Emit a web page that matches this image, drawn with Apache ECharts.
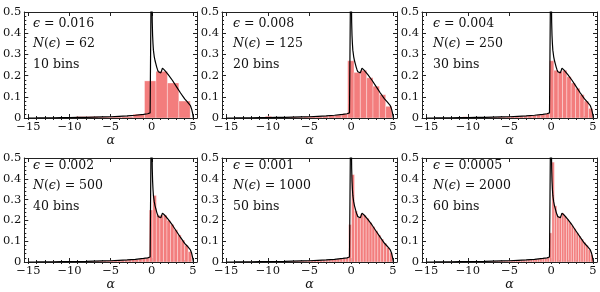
<!DOCTYPE html>
<html><head><meta charset="utf-8">
<script src="https://cdn.jsdelivr.net/npm/echarts@6/dist/echarts.min.js"></script>
<style>html,body{margin:0;padding:0;background:#fff}#c{width:600px;height:292px}</style>
</head><body><div id="c"></div>
<script>
// ---- data ----
const epsLabels = ['0.016', '0.008', '0.004', '0.002', '0.001', '0.0005'];
const nLabels = ['62', '125', '250', '500', '1000', '2000'];
const binLabels = ['10 bins', '20 bins', '30 bins', '40 bins', '50 bins', '60 bins'];
const xTicks = [-15, -10, -5, 0, 5];
const xMinorTicks = [-15,-14,-13,-12,-11,-10,-9,-8,-7,-6,-5,-4,-3,-2,-1,0,1,2,3,4,5];

// theoretical density curve
const curveAlpha = [-15, -14, -13, -12, -11, -10, -9, -8, -7, -6, -5, -4, -3, -2, -1, -0.5, -0.2, -0.03,
  0, 0.03, 0.06, 0.1, 0.15, 0.2, 0.3, 0.4, 0.5, 0.6, 0.7, 0.8, 0.9, 1.0, 1.1, 1.2, 1.3, 1.35,
  1.42, 1.55, 1.7, 2.0, 2.5, 3.0, 3.5, 4.0, 4.3, 4.5, 4.7, 4.85, 4.95, 5.02, 5.06];
const curveDensity = [0, 0.0002, 0.0005, 0.001, 0.0015, 0.002, 0.0025, 0.003, 0.004, 0.005, 0.006, 0.008, 0.01, 0.013, 0.017, 0.02, 0.024, 0.027,
  1.0, 0.55, 0.45, 0.39, 0.35, 0.32, 0.29, 0.27, 0.255, 0.24, 0.228, 0.218, 0.212, 0.21, 0.213, 0.222, 0.235, 0.24,
  0.233, 0.226, 0.219, 0.205, 0.178, 0.148, 0.118, 0.09, 0.077, 0.07, 0.058, 0.042, 0.025, 0.01, 0];

// histograms: first bin edge, bin width, bin heights
const histLo = [-9.22, -10.3, -10.6, -12.34, -12.55, -12.38];
const histWidth = [1.39, 0.76, 0.52, 0.43, 0.35, 0.29];
const hist1 = [0.007, 0.007, 0.005, 0.005, 0.007, 0.018, 0.175, 0.22, 0.165, 0.08];
const hist2 = [0.008, 0.004, 0.003, 0.004, 0.005, 0.004, 0.006, 0.007, 0.008, 0.009, 0.012, 0.014, 0.02,
  0.27, 0.215, 0.225, 0.19, 0.15, 0.11, 0.055];
const hist3 = [0.006, 0.002, 0.003, 0.002, 0.003, 0.003, 0.004, 0.004, 0.005, 0.005, 0.006, 0.007, 0.008, 0.009, 0.01, 0.011, 0.013, 0.015, 0.017, 0.022,
  0.27, 0.225, 0.22, 0.225, 0.195, 0.165, 0.14, 0.11, 0.08, 0.045];
const hist4 = [0.001, 0.001, 0.001, 0.002, 0.002, 0.002, 0.003, 0.003, 0.003, 0.003, 0.004, 0.004, 0.004, 0.005, 0.005, 0.006, 0.006, 0.007, 0.007, 0.008, 0.009, 0.010, 0.011, 0.012, 0.013, 0.015, 0.017, 0.020,
  0.25, 0.32, 0.225, 0.225, 0.225, 0.2, 0.18, 0.155, 0.13, 0.105, 0.08, 0.05];
const hist5 = [0.001, 0.001, 0.001, 0.001, 0.002, 0.002, 0.002, 0.002, 0.003, 0.003, 0.003, 0.003, 0.003, 0.004, 0.004, 0.004, 0.005, 0.005, 0.005, 0.006, 0.006, 0.007, 0.007, 0.008, 0.008, 0.009, 0.010, 0.010, 0.011, 0.012, 0.013, 0.015, 0.016, 0.018, 0.020,
  0.18, 0.42, 0.245, 0.215, 0.23, 0.225, 0.21, 0.19, 0.17, 0.15, 0.13, 0.11, 0.09, 0.07, 0.045];
const hist6 = [0.001, 0.001, 0.001, 0.001, 0.001, 0.002, 0.002, 0.002, 0.002, 0.002, 0.003, 0.003, 0.003, 0.003, 0.003, 0.004, 0.004, 0.004, 0.004, 0.005, 0.005, 0.005, 0.006, 0.006, 0.006, 0.007, 0.007, 0.008, 0.008, 0.009, 0.009, 0.010, 0.010, 0.011, 0.012, 0.013, 0.014, 0.015, 0.016, 0.018, 0.019, 0.021,
  0.14, 0.48, 0.27, 0.22, 0.22, 0.235, 0.22, 0.205, 0.19, 0.175, 0.16, 0.14, 0.125, 0.11, 0.095, 0.08, 0.06, 0.035];
const hists = [hist1, hist2, hist3, hist4, hist5, hist6];

// ---- layout ----
const FONT = 'DejaVu Serif';
const gridLeft = [22, 222, 422];
const gridTop = [12, 158];
const gridH = [106, 105];
const GW = 175;
const barColor = 'rgb(243,125,125)';
const frameColor = '#222';

const grids = [], xAxes = [], yAxes = [], series = [], graphics = [];
const fmtX = v => v < 0 ? '\u2212' + Math.abs(v) : String(v);
const fmtY = v => v === 0 ? '0' : v.toFixed(1);
const curve = curveAlpha.map((a, k) => [a, curveDensity[k]]);

for (let i = 0; i < 6; i++) {
  const c = i % 3, r = Math.floor(i / 3);
  grids.push({ left: gridLeft[c], top: gridTop[r], width: GW, height: gridH[r] });
  const baseX = {
    gridIndex: i, type: 'value', min: -15.5, max: 5.5,
    splitLine: { show: false },
    axisLine: { show: true, onZero: false, lineStyle: { color: frameColor, width: 1 } }
  };
  // bottom major (labels)
  xAxes.push(Object.assign({}, baseX, {
    position: 'bottom',
    axisTick: { show: true, inside: true, length: 4, customValues: xTicks, lineStyle: { color: frameColor } },
    axisLabel: { show: true, customValues: xTicks, formatter: fmtX, margin: 3, fontFamily: FONT, fontSize: 11.5, color: '#111' },
    name: '\u03B1', nameLocation: 'middle', nameGap: 16,
    nameTextStyle: { fontFamily: FONT, fontStyle: 'italic', fontSize: 12.5, color: '#111' }
  }));
  // bottom minor
  xAxes.push(Object.assign({}, baseX, {
    position: 'bottom', axisLine: { show: false },
    axisTick: { show: true, inside: true, length: 2, customValues: xMinorTicks, lineStyle: { color: frameColor } },
    axisLabel: { show: false }
  }));
  // top major
  xAxes.push(Object.assign({}, baseX, {
    position: 'top',
    axisTick: { show: true, inside: true, length: 4, customValues: xTicks, lineStyle: { color: frameColor } },
    axisLabel: { show: false }
  }));
  // top minor
  xAxes.push(Object.assign({}, baseX, {
    position: 'top', axisLine: { show: false },
    axisTick: { show: true, inside: true, length: 2, customValues: xMinorTicks, lineStyle: { color: frameColor } },
    axisLabel: { show: false }
  }));
  const baseY = {
    gridIndex: i, type: 'value', min: 0, max: 0.5, interval: 0.1,
    splitLine: { show: false },
    axisLine: { show: true, onZero: false, lineStyle: { color: frameColor, width: 1 } },
    axisTick: { show: true, inside: true, length: 4, lineStyle: { color: frameColor } },
    minorTick: { show: true, splitNumber: 5, length: 2, lineStyle: { color: frameColor } }
  };
  yAxes.push(Object.assign({}, baseY, {
    position: 'left',
    axisLabel: { show: true, formatter: fmtY, margin: 3, fontFamily: FONT, fontSize: 11.5, color: '#111' }
  }));
  yAxes.push(Object.assign({}, baseY, { position: 'right', axisLabel: { show: false } }));

  const h = hists[i], lo = histLo[i], w = histWidth[i];
  const hdata = h.map((v, k) => [lo + k * w, lo + (k + 1) * w, v]);
  series.push({
    type: 'custom', xAxisIndex: 4 * i, yAxisIndex: 2 * i, clip: true, z: 2,
    encode: { x: [0, 1], y: 2 },
    data: hdata,
    renderItem: (params, api) => {
      const p0 = api.coord([api.value(0), 0]);
      const p1 = api.coord([api.value(1), api.value(2)]);
      return {
        type: 'rect',
        shape: { x: p0[0], y: p1[1], width: p1[0] - p0[0], height: p0[1] - p1[1] },
        style: { fill: barColor, stroke: 'rgba(255,255,255,0.55)', lineWidth: 0.6 }
      };
    }
  });
  series.push({
    type: 'line', xAxisIndex: 4 * i, yAxisIndex: 2 * i, clip: true, z: 3,
    data: curve, showSymbol: false, symbol: 'none', silent: true,
    lineStyle: { color: '#000', width: 1.2 }
  });

  const tx = 33 + 200 * c;
  const ty = r === 0 ? [25, 45, 66] : [167, 187, 208];
  const rich = { i: { fontFamily: FONT, fontStyle: 'italic', fontSize: 12.5, color: '#111' } };
  const common = { fontFamily: FONT, fontSize: 12.5, fill: '#111', verticalAlign: 'middle', align: 'left', rich };
  graphics.push({ type: 'text', left: tx, top: ty[0] - 8, style: Object.assign({ text: '{i|\u03F5} = ' + epsLabels[i] }, common) });
  graphics.push({ type: 'text', left: tx, top: ty[1] - 8, style: Object.assign({ text: '{i|N}({i|\u03F5}) = ' + nLabels[i] }, common) });
  graphics.push({ type: 'text', left: tx, top: ty[2] - 8, style: Object.assign({ text: binLabels[i] }, common) });
}

const chart = echarts.init(document.getElementById('c'), null, { renderer: 'canvas' });
chart.setOption({
  animation: false,
  backgroundColor: '#fff',
  grid: grids, xAxis: xAxes, yAxis: yAxes, series: series, graphic: graphics
});
</script></body></html>
